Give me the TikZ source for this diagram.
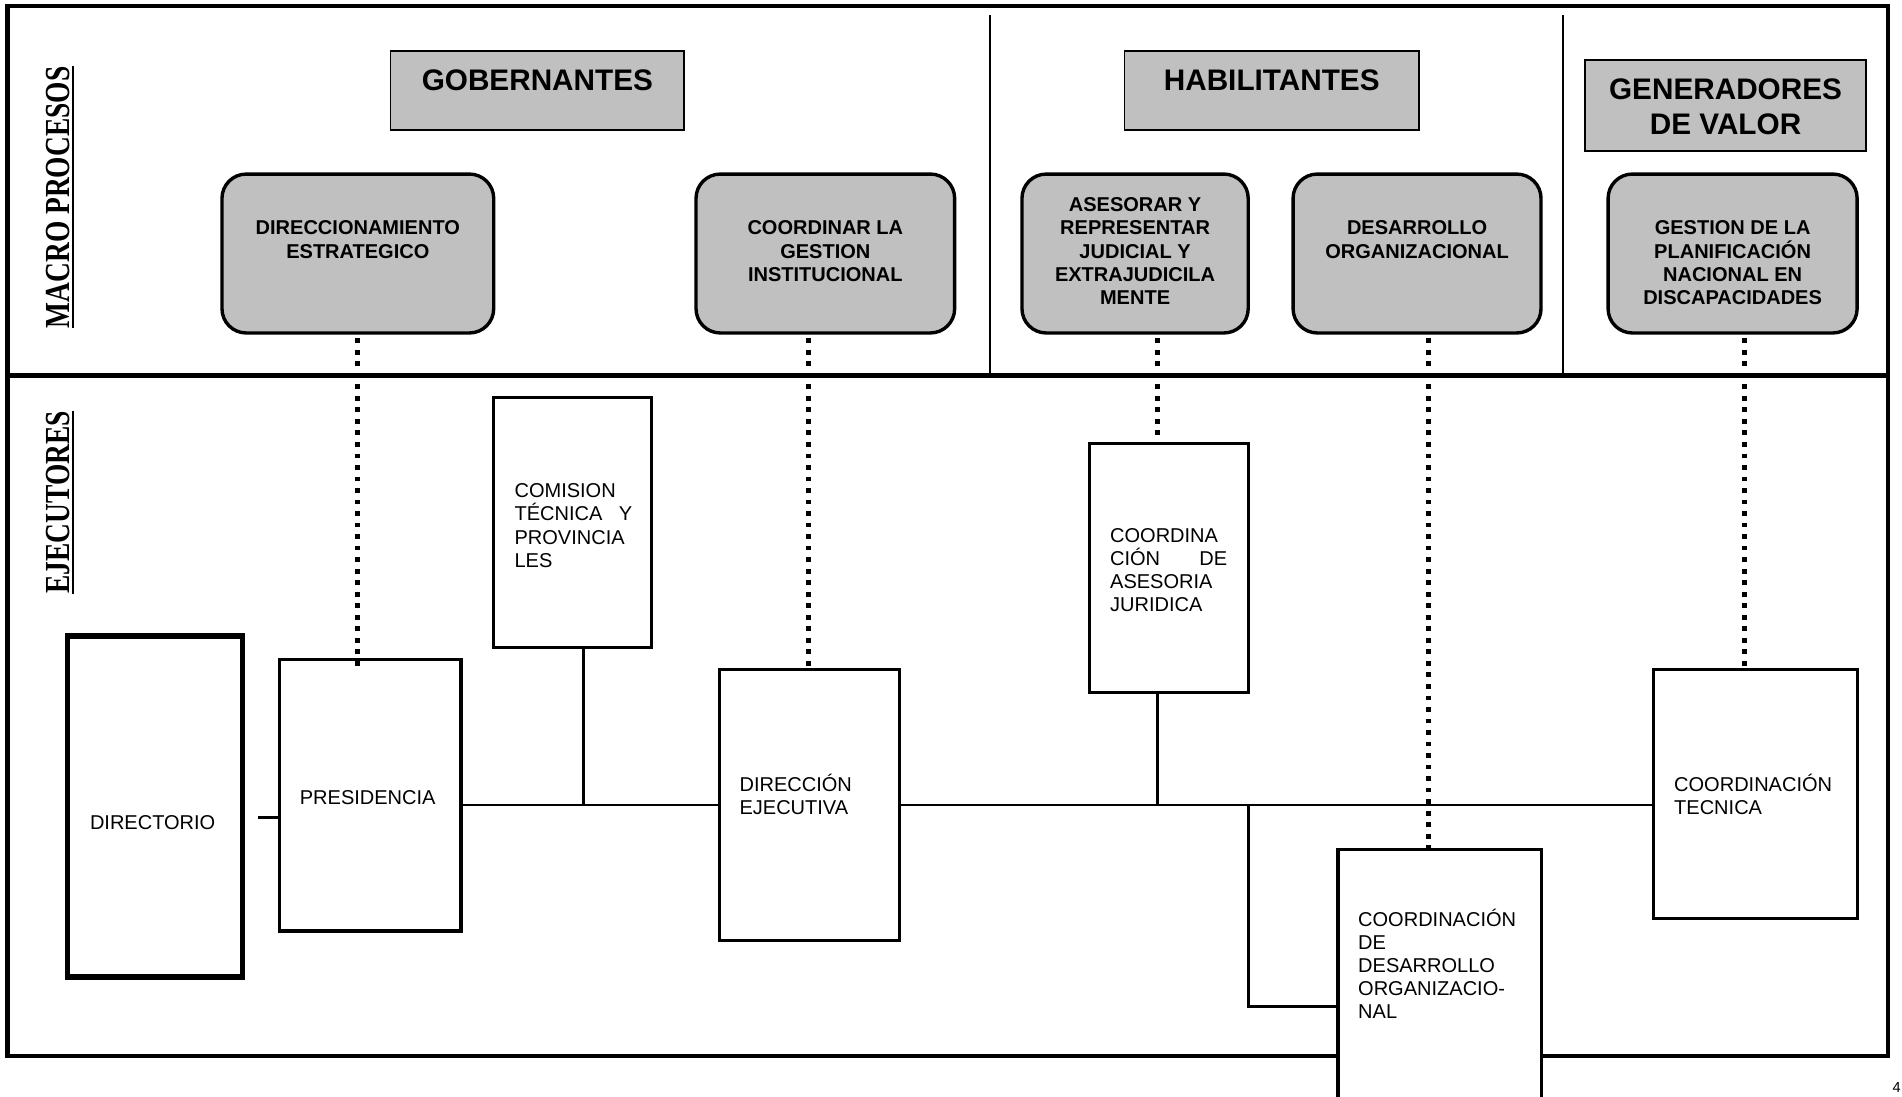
\documentclass[tikz,border=0pt]{standalone}
\usepackage{fontspec}
\setmainfont{Liberation Sans}
\newfontfamily\timesn{Liberation Serif}[FakeStretch=0.78]
\usetikzlibrary{calc}
\definecolor{boxgray}{RGB}{192,192,192}
\hbadness=10000
\begin{document}
\begin{tikzpicture}[x=1pt,y=-1pt,
  frame/.style={line width=3.8pt},
  thinline/.style={line width=1.3pt},
  hbox/.style={draw, line width=1.3pt, fill=boxgray, inner sep=0pt},
  rbox/.style={draw, line width=2.8pt, fill=boxgray, rounded corners=20pt, inner sep=0pt},
  ebox/.style={draw, line width=2.6pt, fill=white, inner sep=0pt},
  conn/.style={line width=2.2pt},
  dots/.style={line width=3.9pt, dash pattern=on 3.9pt off 5.6pt},
  htext/.style={inner sep=0pt, anchor=base, font=\bfseries\fontsize{24.5}{29}\selectfont},
  btext/.style={inner sep=0pt, anchor=base, font=\bfseries\fontsize{16.5}{19.2}\selectfont},
  etext/.style={inner sep=0pt, anchor=base west, font=\fontsize{16.5}{19}\selectfont},
  rtext/.style={inner sep=0pt, anchor=base west, rotate=90, font=\timesn\bfseries\fontsize{29}{32}\selectfont}
]
\useasboundingbox (0,0) rectangle (1568,904);

% frame
\draw[frame] (6,5) rectangle (1556.5,870.5);
\draw[frame] (6,309.5) -- (1556.5,309.5);
\draw[thinline] (816,12.4) -- (816,309.5);
\draw[thinline] (1288.7,12.4) -- (1288.7,309.5);

% side labels
\node[rtext] (mp) at (57.5,270.7) {MACRO PROCESOS};
\draw[line width=2pt] ($(mp.base west)+(2.6,0)$) -- ($(mp.base east)+(2.6,0)$);
\node[rtext] (ej) at (57.5,489.6) {EJECUTORES};
\draw[line width=2pt] ($(ej.base west)+(2.6,0)$) -- ($(ej.base east)+(2.6,0)$);

% header boxes
\node[hbox, minimum width=242pt, minimum height=65pt] (gob) at (443,74.5) {};
\node[hbox, minimum width=242.8pt, minimum height=65pt] (hab) at (1048.4,74.5) {};
\node[hbox, minimum width=231.6pt, minimum height=75pt] (gen) at (1422.5,87) {};
\node[htext] (gobt) at (443,74.5) {GOBERNANTES};
\node[htext] (habt) at (1048.4,74.5) {HABILITANTES};
\node[htext] (gent) at (1422.5,82) {\parbox[t]{230pt}{\centering GENERADORES\\DE VALOR}};

% macro process boxes
\node[rbox, minimum width=224pt, minimum height=131pt] (rb1) at (295,209) {};
\node[rbox, minimum width=213.2pt, minimum height=131pt] (rb2) at (680.4,209) {};
\node[rbox, minimum width=186.5pt, minimum height=131pt] (rb3) at (935.75,209) {};
\node[rbox, minimum width=204.4pt, minimum height=131pt] (rb4) at (1168.2,209) {};
\node[rbox, minimum width=205.3pt, minimum height=131pt] (rb5) at (1428.35,209) {};
\node[btext] (rb1t) at (295,193.5) {\parbox[t]{215pt}{\centering DIRECCIONAMIENTO\\ESTRATEGICO}};
\node[btext] (rb2t) at (680.4,193.5) {\parbox[t]{205pt}{\centering COORDINAR LA\\GESTION\\INSTITUCIONAL}};
\node[btext] (rb3t) at (935.75,174.5) {\parbox[t]{180pt}{\centering ASESORAR Y\\REPRESENTAR\\JUDICIAL Y\\EXTRAJUDICILA\\MENTE}};
\node[btext] (rb4t) at (1168.2,193.5) {\parbox[t]{200pt}{\centering DESARROLLO\\ORGANIZACIONAL}};
\node[btext] (rb5t) at (1428.35,193.5) {\parbox[t]{200pt}{\centering GESTION DE LA\\PLANIFICACIÓN\\NACIONAL EN\\DISCAPACIDADES}};

% executor boxes
\node[ebox, line width=4.5pt, minimum width=144.5pt, minimum height=281pt] (dir) at (127.75,665) {};
\node[ebox, minimum width=149.5pt, minimum height=223.5pt] (pres) at (305.25,655.75) {};
\node[ebox, minimum width=130.8pt, minimum height=205.6pt] (com) at (472,430.8) {};
\node[ebox, minimum width=148.6pt, minimum height=223.7pt] (de) at (667.1,663.65) {};
\node[ebox, minimum width=130.5pt, minimum height=205.6pt] (aj) at (963.75,468.2) {};
\node[ebox, minimum width=167.6pt, minimum height=210pt] (dor) at (1186.8,805) {};
\node[ebox, minimum width=168pt, minimum height=205.2pt] (ct) at (1447,654.4) {};

\node[etext] (dirt) at (74,683.5) {DIRECTORIO};
\node[etext] (prest) at (247,663.5) {PRESIDENCIA};
\node[etext] (comt) at (424,410.5) {\parbox[t]{97pt}{COMISION\\TÉCNICA\hfill Y\\PROVINCIA\\LES}};
\node[etext] (det) at (609.5,652.5) {\parbox[t]{130pt}{DIRECCIÓN\\EJECUTIVA}};
\node[etext] (ajt) at (915,447.5) {\parbox[t]{96.5pt}{COORDINA\\CIÓN\hfill DE\\ASESORIA\\JURIDICA}};
\node[etext] (dort) at (1119.5,763.5) {\parbox[t]{145pt}{COORDINACIÓN\\DE\\DESARROLLO\\ORGANIZACIO-\\NAL}};
\node[etext] (ctt) at (1380,652.5) {\parbox[t]{145pt}{COORDINACIÓN\\TECNICA}};

\node[etext, font=\fontsize{12}{14}\selectfont] (pg) at (1560,901) {4};

% helper coordinates
\coordinate (hl) at (0,663.5);
\coordinate (stub) at (213,674);
\coordinate (cx) at (481,0);
\coordinate (ax) at (954.3,0);
\coordinate (brb) at (1029.3,830);
\coordinate (d2) at (666.5,0);
\coordinate (d4) at (1177.5,0);
\coordinate (d5) at (1438,0);

% solid connectors
\draw[conn] (stub) -- (stub -| pres.west);
\draw[conn] (pres.east |- hl) -- (de.west |- hl);
\draw[conn] (de.east |- hl) -- (ct.west |- hl);
\draw[conn] (cx |- com.south) -- (cx |- hl);
\draw[conn] (ax |- aj.south) -- (ax |- hl);
\draw[conn] (brb |- hl) -- (brb) -- (brb -| dor.west);

% dotted connectors
\draw[dots] ($(rb1.south)+(0,3)$) -- ($(rb1.south |- pres.north)+(0,7)$);
\draw[dots] ($(d2 |- rb2.south)+(0,3)$) -- (d2 |- de.north);
\draw[dots] ($(ax |- rb3.south)+(0,3)$) -- (ax |- aj.north);
\draw[dots] ($(d4 |- rb4.south)+(0,3)$) -- (d4 |- dor.north);
\draw[dots] ($(d5 |- rb5.south)+(0,3)$) -- (d5 |- ct.north);
\end{tikzpicture}
\end{document}
